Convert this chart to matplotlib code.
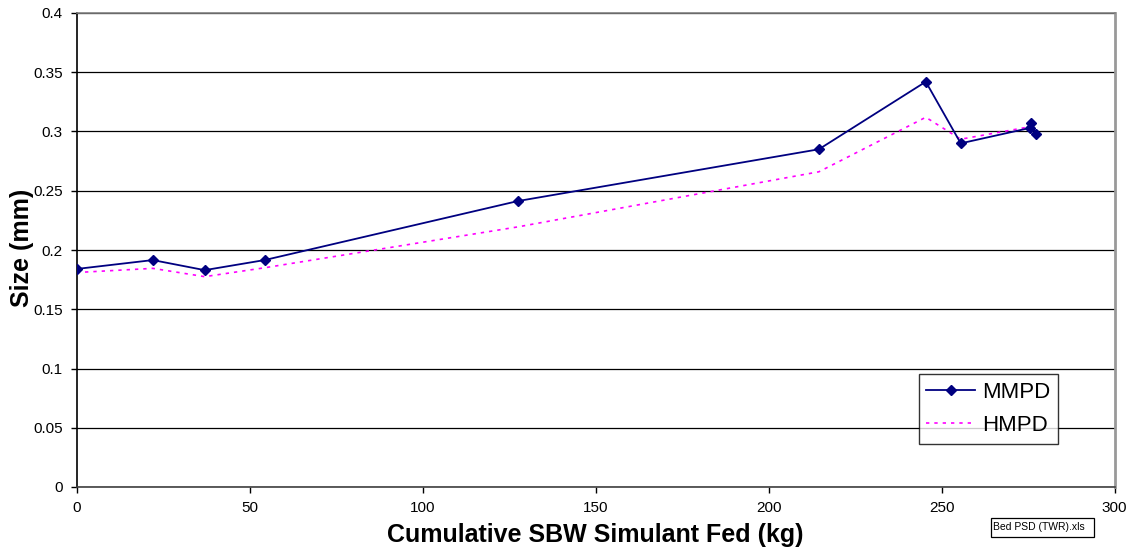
import matplotlib
matplotlib.use("Agg")
import matplotlib.pyplot as plt
from matplotlib.ticker import MultipleLocator, FuncFormatter
from matplotlib.patches import Rectangle

plt.rcParams['font.family'] = ['Liberation Sans', 'DejaVu Sans']

fed_kg = [0, 22, 37, 54.3, 127.5, 214.5, 245.4, 255.5, 275.5, 275.8, 277.2]
mmpd = [0.184, 0.1915, 0.183, 0.1915, 0.2413, 0.285, 0.342, 0.290, 0.303, 0.307, 0.298]
hmpd = [0.181, 0.1845, 0.1775, 0.185, 0.2195, 0.266, 0.312, 0.2935, 0.304, 0.3035, 0.303]

W, H = 1131, 552
fig = plt.figure(figsize=(W / 100, H / 100), dpi=100)
ax = fig.add_axes([76.7 / W, 1 - 487 / H, 1038 / W, 474 / H])

ax.plot(fed_kg, mmpd, color='#000080', lw=1.3, marker='D', ms=5.5,
        label='MMPD', zorder=4)
ax.plot(fed_kg, hmpd, color='#FF00FF', lw=1.2, ls=(0, (2, 3)),
        label='HMPD', zorder=3)

ax.set_xlim(0, 300)
ax.set_ylim(0, 0.4)
ax.xaxis.set_major_locator(MultipleLocator(50))
ax.yaxis.set_major_locator(MultipleLocator(0.05))
ax.yaxis.set_major_formatter(FuncFormatter(lambda v, p: f"{v:.2f}".rstrip('0').rstrip('.') if v != 0 else "0"))
ax.grid(axis='y', color='black', lw=0.9)
ax.set_axisbelow(True)
ax.tick_params(direction='out', length=4, width=1, labelsize=11, colors='black', pad=6)

ax.spines['left'].set_color('black')
ax.spines['bottom'].set_color('#404040')
ax.spines['top'].set_color('#808080')
ax.spines['right'].set_color('#999999')
for s in ax.spines.values():
    s.set_linewidth(1.2)
ax.spines['right'].set_linewidth(2.0)

ax.set_xlabel('Cumulative SBW Simulant Fed (kg)', fontsize=18, fontweight='bold', labelpad=6)
ax.set_ylabel('Size (mm)', fontsize=18, fontweight='bold')
ax.yaxis.set_label_coords((34 - 76.7) / 1038, (487 - 248) / 474)

leg = ax.legend(loc='lower right', bbox_to_anchor=((1058 - 76.7) / 1038, (487 - 444) / 474),
                fontsize=16, frameon=True, fancybox=False, edgecolor='black',
                handlelength=2.2, borderpad=0.35, labelspacing=0.55, handletextpad=0.3,
                borderaxespad=0)
leg.get_frame().set_linewidth(1.0)

fig.patches.append(Rectangle((991 / W, 1 - 537 / H), 103 / W, 19 / H,
                             transform=fig.transFigure, fc='white', ec='black', lw=0.9))
fig.text(993 / W, 1 - 527 / H, 'Bed PSD (TWR).xls', fontsize=7.5,
         ha='left', va='center')

fig.savefig('out.png', dpi=100)
